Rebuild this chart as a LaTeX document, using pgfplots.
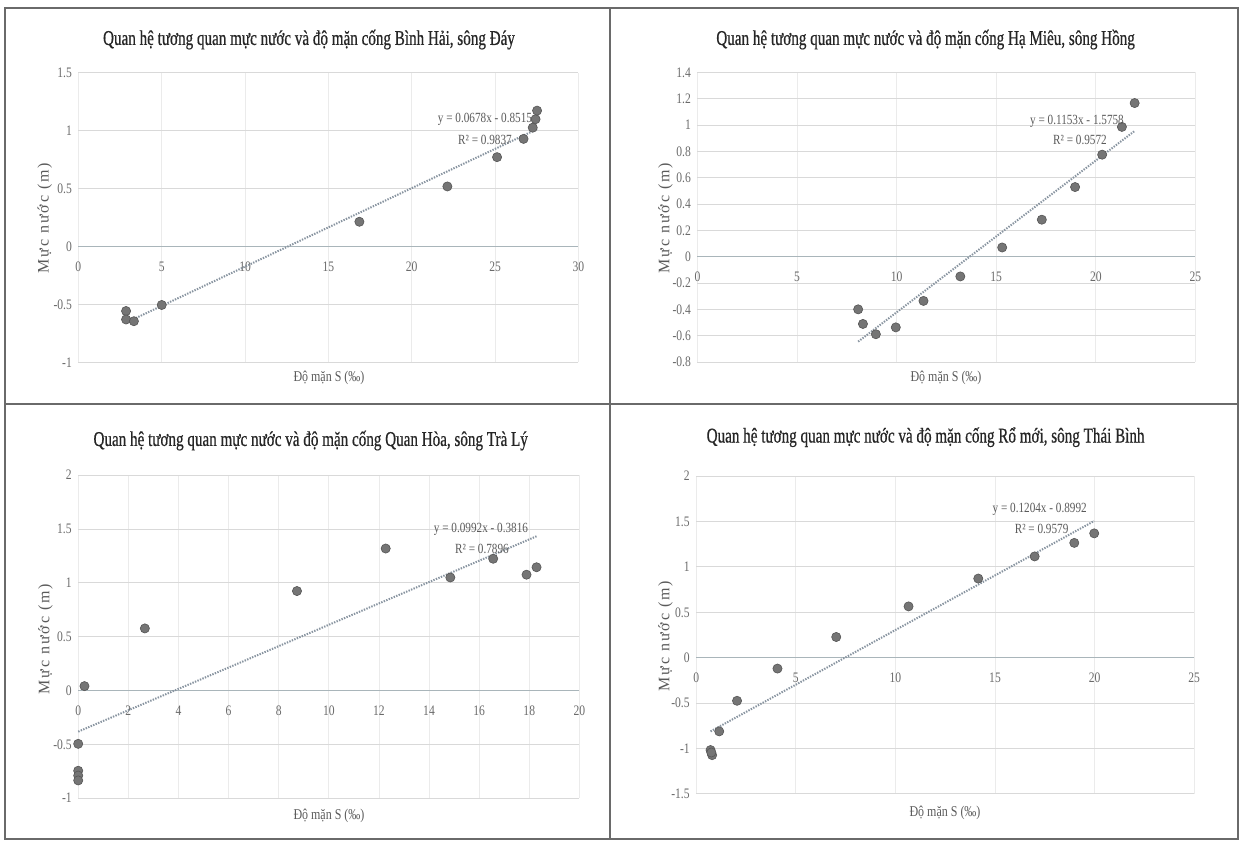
\documentclass[border=0pt]{standalone}
\usepackage{fontspec}
\setmainfont{Liberation Serif}
\newfontfamily\condserif{Liberation Serif}[FakeStretch=0.8]
\newfontfamily\titleserif{Liberation Serif}[FakeStretch=0.72, FakeBold=0.6]
\newfontfamily\spacedserif{Liberation Serif}[LetterSpace=12]
\usepackage{pgfplots}
\pgfplotsset{compat=1.18}

\definecolor{gridcol}{HTML}{D9D9D9}
\definecolor{vgridcol}{HTML}{EBEBEB}
\definecolor{axiscol}{HTML}{A9B5BA}
\definecolor{markfill}{HTML}{757575}
\definecolor{markdraw}{HTML}{555555}
\definecolor{trendcol}{HTML}{8894A0}
\definecolor{titlecol}{HTML}{262626}
\definecolor{tickcol}{HTML}{6A6A6A}
\definecolor{labelcol}{HTML}{5A5A5A}
\definecolor{framecol}{HTML}{6A6A6A}

\newcommand\titlefont{\titleserif\fontsize{21}{24}\selectfont}
\newcommand\tickfont{\condserif\fontsize{14.5}{16}\selectfont}
\newcommand\eqfont{\condserif\fontsize{14}{16}\selectfont}
\newcommand\xlabfont{\condserif\fontsize{15}{17}\selectfont}
\newcommand\ylabfont{\spacedserif\fontsize{16}{18}\selectfont}

\pgfplotsset{
  panel/.style={
    scale only axis, anchor=south west, clip=false,
    axis x line=middle, axis y line=left,
    axis line style={-},
    x axis line style={-, draw=axiscol, line width=1.4pt},
    y axis line style={draw=none},
    major tick length=0pt,
    xmajorgrids, ymajorgrids,
    x grid style={vgridcol, line width=0.8pt},
    y grid style={gridcol, line width=0.9pt},
    hide obscured x ticks=false, hide obscured y ticks=false,
    tick label style={font=\tickfont, text=tickcol},
    xticklabel style={anchor=center, yshift=-20pt},
    yticklabel style={anchor=east, xshift=-3pt},
    /pgf/number format/assume math mode=true,
    /pgf/number format/fixed,
  },
  pts/.style={only marks, mark=*, mark size=4.6pt,
    mark options={fill=markfill, draw=markdraw, line width=0.6pt}},
  trend/.style={trendcol, line width=2pt, dash pattern=on 1.4pt off 1.3pt, no marks},
}

\begin{document}
\begin{tikzpicture}
\useasboundingbox (0,0) rectangle (1243pt,841pt);

% Binh Hai sluice, Day river
\begin{axis}[panel, at={(78.4pt,478.7pt)}, width=500pt, height=289.4pt,
  xmin=0, xmax=30, ymin=-1, ymax=1.5,
  xtick={0,5,10,15,20,25,30}, ytick={-1,-0.5,0,0.5,1,1.5}]
\addplot[pts] coordinates {
  (2.86,-0.557) (2.86,-0.63) (3.33,-0.645) (5.0,-0.505) (16.86,0.214)
  (22.14,0.519) (25.12,0.772) (26.71,0.93) (27.26,1.027) (27.43,1.10)
  (27.52,1.174)};
\addplot[trend] coordinates {(2.86,-0.6576) (27.52,1.0144)};
\end{axis}

% Ha Mieu sluice, Hong river
\begin{axis}[panel, at={(697.4pt,479pt)}, width=498pt, height=289.6pt,
  xmin=0, xmax=25, ymin=-0.8, ymax=1.4,
  xtick={0,5,10,15,20,25},
  ytick={-0.8,-0.6,-0.4,-0.2,0,0.2,0.4,0.6,0.8,1,1.2,1.4}]
\addplot[pts] coordinates {
  (8.07,-0.40) (8.31,-0.511) (8.96,-0.589) (9.96,-0.537) (11.35,-0.336)
  (13.2,-0.150) (15.3,0.07) (17.29,0.281) (18.96,0.529) (20.32,0.775)
  (21.31,0.986) (21.95,1.167)};
\addplot[trend] coordinates {(8.07,-0.6453) (21.95,0.9550)};
\end{axis}

% Quan Hoa sluice, Tra Ly river
\begin{axis}[panel, at={(78.2pt,42.8pt)}, width=501.2pt, height=323pt,
  xmin=0, xmax=20, ymin=-1, ymax=2,
  xtick={0,2,4,6,8,10,12,14,16,18,20}, ytick={-1,-0.5,0,0.5,1,1.5,2}]
\addplot[pts] coordinates {
  (0.25,0.041) (0,-0.495) (0,-0.745) (0,-0.79) (0,-0.835)
  (2.66,0.577) (8.73,0.924) (12.27,1.319) (14.85,1.05) (16.56,1.224)
  (17.89,1.076) (18.29,1.145)};
\addplot[trend] coordinates {(0,-0.3816) (18.29,1.4328)};
\end{axis}

% Ro moi sluice, Thai Binh river
\begin{axis}[panel, at={(696.2pt,47.2pt)}, width=498pt, height=317.6pt,
  xmin=0, xmax=25, ymin=-1.5, ymax=2,
  xtick={0,5,10,15,20,25}, ytick={-1.5,-1,-0.5,0,0.5,1,1.5,2}]
\addplot[pts] coordinates {
  (0.72,-1.018) (0.80,-1.074) (0.76,-1.045) (1.155,-0.812) (2.05,-0.475)
  (4.08,-0.12) (7.03,0.228) (10.66,0.565) (14.16,0.872) (16.99,1.116)
  (18.98,1.265) (19.98,1.370)};
\addplot[trend] coordinates {(0.72,-0.8125) (19.98,1.5064)};
\end{axis}

% titles, axis titles and trendline equations
\begin{scope}[every node/.style={inner sep=0pt}]
\node[font=\titlefont, text=titlecol] at (309pt,801.4pt)
  {Quan hệ tương quan mực nước và độ mặn cống Bình Hải, sông Đáy};
\node[font=\titlefont, text=titlecol] at (925.6pt,801.4pt)
  {Quan hệ tương quan mực nước và độ mặn cống Hạ Miêu, sông Hồng};
\node[font=\titlefont, text=titlecol] at (310.7pt,400.4pt)
  {Quan hệ tương quan mực nước và độ mặn cống Quan Hòa, sông Trà Lý};
\node[font=\titlefont, text=titlecol] at (925.6pt,403.8pt)
  {Quan hệ tương quan mực nước và độ mặn cống Rổ mới, sông Thái Bình};

\node[font=\xlabfont, text=labelcol] at (329pt,463.4pt) {Độ mặn S (‰)};
\node[font=\xlabfont, text=labelcol] at (946pt,463.4pt) {Độ mặn S (‰)};
\node[font=\xlabfont, text=labelcol] at (329pt,25.1pt) {Độ mặn S (‰)};
\node[font=\xlabfont, text=labelcol] at (945pt,28.5pt) {Độ mặn S (‰)};

\node[font=\ylabfont, text=labelcol, rotate=90] at (44.7pt,623pt) {Mực nước (m)};
\node[font=\ylabfont, text=labelcol, rotate=90] at (665.6pt,623pt) {Mực nước (m)};
\node[font=\ylabfont, text=labelcol, rotate=90] at (45.6pt,202pt) {Mực nước (m)};
\node[font=\ylabfont, text=labelcol, rotate=90] at (665.6pt,205pt) {Mực nước (m)};

\node[font=\eqfont, text=labelcol] at (485pt,721.6pt) {y = 0.0678x - 0.8515};
\node[font=\eqfont, text=labelcol] at (485pt,701.2pt) {R² = 0.9837};
\node[font=\eqfont, text=labelcol] at (1077pt,719.9pt) {y = 0.1153x - 1.5758};
\node[font=\eqfont, text=labelcol] at (1080pt,701.2pt) {R² = 0.9572};
\node[font=\eqfont, text=labelcol] at (481pt,311.4pt) {y = 0.0992x - 0.3816};
\node[font=\eqfont, text=labelcol] at (482pt,291.7pt) {R² = 0.7896};
\node[font=\eqfont, text=labelcol] at (1039.7pt,331.8pt) {y = 0.1204x - 0.8992};
\node[font=\eqfont, text=labelcol] at (1041.6pt,312.1pt) {R² = 0.9579};
\end{scope}

% table frame around the four charts
\begin{scope}[framecol, line width=1.6pt]
\draw (5pt,2pt) rectangle (1238pt,833pt);
\draw (5pt,437pt) -- (1238pt,437pt);
\draw (610pt,2pt) -- (610pt,833pt);
\end{scope}
\end{tikzpicture}
\end{document}
